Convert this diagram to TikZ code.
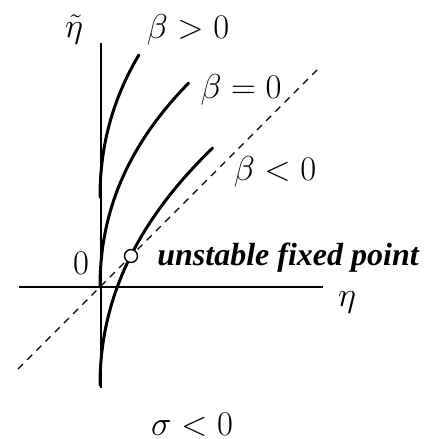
\documentclass[tikz,border=0pt]{standalone}
\usepackage[no-math]{fontspec}
\newfontfamily\timesfont{Liberation Serif}
\tikzset{
  axis/.style={line width=0.8pt},
  branch/.style={line width=1.5pt},
  diag/.style={line width=0.65pt, dash pattern=on 3.5pt off 3pt},
  mlabel/.style={inner sep=0pt, anchor=base, font=\fontsize{17.28}{20}\selectfont},
  fixpt/.style={circle, draw, fill=white, line width=0.7pt, minimum size=6.5pt, inner sep=0pt}
}
\begin{document}
\begin{tikzpicture}[x=0.5pt, y=-0.5pt]
\useasboundingbox (0,0) rectangle (425,439);
% axes
\coordinate (vtop) at (101,43);
\coordinate (vbot) at (101,388);
\coordinate (hl) at (19,287);
\coordinate (hr) at (323,287);
\draw[axis] (vbot) -- (vtop);
\draw[axis] (hl) -- (hr);
% dashed diagonal
\coordinate (dl) at (18,369);
\coordinate (dr) at (321,66);
\draw[diag] (dl) -- (dr);
% branches
\draw[branch, line cap=round] plot[domain=0:1.42, samples=60, smooth] ({100+16*\x*\x+2.3*\x*\x*\x}, {197-100*\x});
\draw[branch, line cap=round] plot[domain=0:2.04, samples=80, smooth] ({100+16*\x*\x+2.6*\x*\x*\x}, {287-100*\x});
\draw[branch, line cap=round] plot[domain=0:2.37, samples=90, smooth] ({100+16.5*\x*\x+1.5*\x*\x*\x}, {385-100*\x});
% fixed point
\node[fixpt] (fp) at (131,256) {};
% labels
\node[mlabel] (etat) at (74,38) {$\tilde\eta$};
\node[mlabel] (bpos) at (188,39) {$\beta>0$};
\node[mlabel] (bzero) at (241,98) {$\beta=0$};
\node[mlabel] (bneg) at (275,180) {$\beta<0$};
\node[mlabel] (zero) at (81,274) {$0$};
\node[mlabel] (eta) at (347,306) {$\eta$};
\node[mlabel] (sig) at (192,435) {$\sigma<0$};
\node[inner sep=0pt, anchor=base west, font=\timesfont\bfseries\itshape\fontsize{16}{19}\selectfont] (ufp) at (157,265) {unstable fixed point};
\end{tikzpicture}
\end{document}
